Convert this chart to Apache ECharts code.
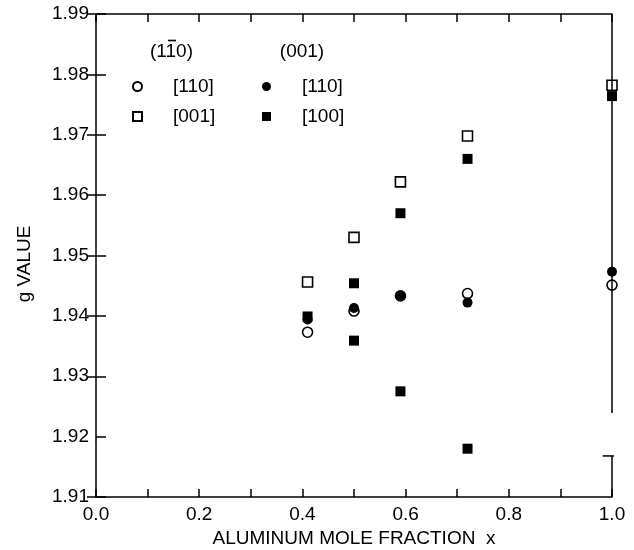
<!DOCTYPE html>
<html><head><meta charset="utf-8">
<script src="https://cdn.jsdelivr.net/npm/echarts@6/dist/echarts.min.js"></script>
<style>html,body{margin:0;padding:0;background:#fff}#c{width:634px;height:550px}</style>
</head><body><div id="c"></div>
<script>
// ---- data ----
const xValues = [0.41, 0.50, 0.59, 0.72, 1.00];
// (1-10) plane
const plane1_110 = [1.9373, 1.9408, 1.9433, 1.9437, 1.9451]; // open circles
const plane1_001 = [1.9456, 1.9530, 1.9622, 1.9698, 1.9782]; // open squares
// (001) plane
const plane2_110 = [1.9394, 1.9413, 1.9434, 1.9422, 1.9473]; // filled circles
const plane2_100_upper = [1.9399, 1.9454, 1.9570, 1.9660, 1.9764]; // filled squares
const plane2_100_lower = [null, 1.9359, 1.9275, 1.9180, null];     // filled squares
// ticks
const xLabelTicks = [0.0, 0.2, 0.4, 0.6, 0.8, 1.0];
const xMinorTicks = [0.0, 0.1, 0.2, 0.3, 0.4, 0.5, 0.6, 0.7, 0.8, 0.9, 1.0];
const yTicks = [1.91, 1.92, 1.93, 1.94, 1.95, 1.96, 1.97, 1.98, 1.99];
const rightTicks = [1.91, 1.93, 1.94, 1.95, 1.96, 1.97, 1.98, 1.99];
// right-axis break
const breakTop = 1.9239, breakBottom = 1.9168;

const FONT = '"Liberation Sans", Arial, sans-serif';
const FS = 19;
const pair = arr => arr.map((v, i) => v == null ? null : [xValues[i], v]).filter(p => p);

const openStyle = {color: '#fff', borderColor: '#000', borderWidth: 1.6, opacity: 1};
const fillStyle = {color: '#000', borderColor: '#000', borderWidth: 0, opacity: 1};
const axisLineStyle = {color: '#000', width: 1.5};
const legendBase = {
  orient: 'vertical', top: 72, itemWidth: 9, itemHeight: 9, itemGap: 11,
  selectedMode: false, formatter: n => n.split(' ')[1],
  textStyle: {color: '#000', fontSize: FS, fontFamily: FONT, padding: [0, 0, 0, 26]}
};

const chart = echarts.init(document.getElementById('c'), null, {renderer: 'canvas'});
chart.setOption({
  animation: false,
  backgroundColor: '#fff',
  grid: {left: 96, right: 22, top: 14, bottom: 53, containLabel: false, outerBoundsMode: 'none'},
  xAxis: [{
    type: 'value', min: 0, max: 1, position: 'bottom',
    axisLine: {lineStyle: axisLineStyle},
    axisTick: {inside: true, length: 8, customValues: xMinorTicks, lineStyle: axisLineStyle},
    axisLabel: {customValues: xLabelTicks, formatter: v => v.toFixed(1), color: '#000', fontSize: FS, fontFamily: FONT, margin: 8},
    splitLine: {show: false},
    name: 'ALUMINUM MOLE FRACTION  x', nameLocation: 'middle', nameGap: 24,
    nameTextStyle: {color: '#000', fontSize: FS, fontFamily: FONT}
  }, {
    type: 'value', min: 0, max: 1, position: 'top',
    axisLine: {lineStyle: axisLineStyle},
    axisTick: {inside: true, length: 8, customValues: xMinorTicks, lineStyle: axisLineStyle},
    axisLabel: {show: false}, splitLine: {show: false}
  }],
  yAxis: [{
    type: 'value', min: 1.91, max: 1.99, position: 'left',
    axisLine: {show: true, lineStyle: axisLineStyle},
    axisTick: {show: true, inside: true, length: 10, customValues: yTicks, lineStyle: axisLineStyle},
    axisLabel: {customValues: yTicks, formatter: v => v.toFixed(2), color: '#000', fontSize: FS, fontFamily: FONT, margin: 7},
    splitLine: {show: false}
  }, {
    type: 'value', min: 1.91, max: 1.99, position: 'right',
    axisLine: {show: false},
    axisTick: {show: true, inside: true, length: 9, customValues: rightTicks, lineStyle: axisLineStyle},
    axisLabel: {show: false}, splitLine: {show: false}
  }],
  legend: [
    Object.assign({}, legendBase, {data: ['(1-10) [110]', '(1-10) [001]'], left: 127}),
    Object.assign({}, legendBase, {data: ['(001) [110]', '(001) [100]'], left: 257})
  ],
  graphic: [
    {type: 'text', x: 171.5, y: 52, style: {text: '(110)', font: FS + 'px ' + FONT, fill: '#000', align: 'center', verticalAlign: 'middle'}},
    {type: 'line', shape: {x1: 168, y1: 40.5, x2: 176, y2: 40.5}, style: {stroke: '#000', lineWidth: 1.6}},
    {type: 'text', x: 302, y: 52, style: {text: '(001)', font: FS + 'px ' + FONT, fill: '#000', align: 'center', verticalAlign: 'middle'}},
    {type: 'text', x: 25, y: 264, rotation: Math.PI / 2, style: {text: 'g VALUE', font: FS + 'px ' + FONT, fill: '#000', align: 'center', verticalAlign: 'middle'}}
  ],
  series: [
    // right frame line with break
    {type: 'line', silent: true, clip: false, symbol: 'none', lineStyle: axisLineStyle, data: [[1, 1.99], [1, breakTop]]},
    {type: 'line', silent: true, clip: false, symbol: 'none', lineStyle: axisLineStyle, data: [[1, breakBottom], [1, 1.91]]},
    {type: 'line', silent: true, clip: false, symbol: 'none', lineStyle: axisLineStyle, data: [[0.982, breakBottom], [1.006, breakBottom]]},
    {name: '(1-10) [110]', type: 'scatter', symbol: 'circle', symbolSize: 10, itemStyle: openStyle, data: pair(plane1_110), clip: false},
    {name: '(1-10) [001]', type: 'scatter', symbol: 'rect', symbolSize: 10, itemStyle: openStyle, data: pair(plane1_001), clip: false},
    {name: '(001) [110]', type: 'scatter', symbol: 'circle', symbolSize: 10, itemStyle: fillStyle, data: pair(plane2_110), clip: false},
    {name: '(001) [100]', type: 'scatter', symbol: 'rect', symbolSize: 10, itemStyle: fillStyle, data: pair(plane2_100_upper).concat(pair(plane2_100_lower)), clip: false}
  ]
});
</script>
</body></html>
